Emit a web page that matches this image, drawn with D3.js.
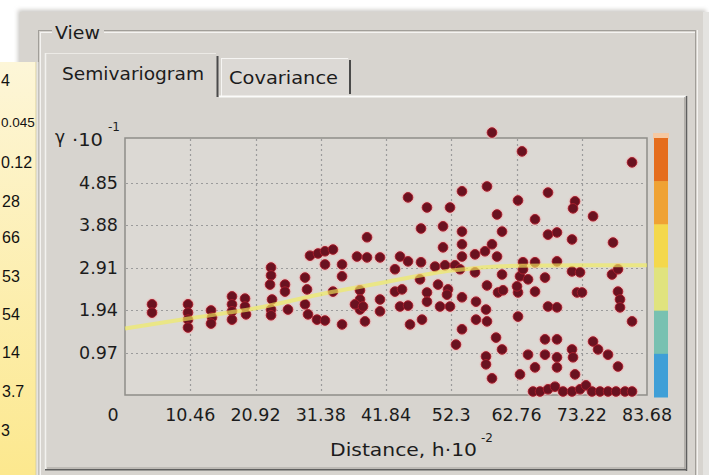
<!DOCTYPE html>
<html><head><meta charset="utf-8">
<script src="https://cdn.jsdelivr.net/npm/d3@7"></script>
<style>html,body{margin:0;padding:0;background:#fff;overflow:hidden}</style>
</head><body>
<svg id="c" width="709" height="475"></svg>
<script>
// ---- data ----
const lagDistance = [4.33,4.33,10.10,10.10,10.10,10.10,13.79,13.95,13.79,17.15,17.15,17.15,17.15,19.24,19.24,19.40,23.41,23.41,23.25,23.57,23.41,23.41,25.65,25.65,26.13,28.86,29.18,28.86,29.34,30.78,32.06,34.79,29.66,30.94,32.06,33.34,32.06,34.79,34.79,38.80,37.19,38.80,40.88,37.67,37.67,37.67,38.47,40.88,40.88,33.34,36.87,38.15,
58.83,45.37,48.41,52.10,54.02,58.03,59.64,47.45,50.98,54.02,54.02,54.02,50.98,60.44,58.83,57.71,56.11,59.64,44.09,45.37,47.45,43.28,49.70,51.30,52.90,53.70,50.18,51.78,47.29,56.11,60.44,43.28,44.41,48.41,48.41,44.09,45.37,50.50,52.10,51.62,54.02,56.27,58.03,59.80,60.60,57.87,47.61,45.69,56.27,58.03,54.02,53.06,59.48,60.44,57.87,57.87,58.83,
63.64,81.28,67.81,63.00,72.14,71.82,75.03,65.73,67.81,69.25,71.66,78.23,63.80,65.73,69.25,71.66,72.94,78.07,79.03,63.32,64.61,67.33,63.00,65.73,72.46,73.26,79.03,79.35,67.81,69.25,63.00,81.28,67.33,69.25,75.03,75.83,64.61,67.33,69.25,71.66,71.82,77.43,69.25,65.73,79.03,63.32,72.14,62.84,63.80,79.35,
65.41,66.53,67.81,68.93,70.22,71.66,72.94,73.90,74.86,76.15,77.43,78.71,80.16,81.28];
const semivariance = [2.07,1.88,2.07,1.88,1.72,1.54,1.93,1.77,1.63,2.25,2.07,1.91,1.72,2.20,2.02,1.84,2.91,2.73,2.52,2.18,1.95,1.82,2.52,2.36,1.95,2.68,2.41,2.07,1.84,1.72,1.70,1.61,3.18,3.23,3.28,3.32,2.98,2.98,2.71,3.60,3.16,3.14,3.14,2.39,2.18,1.95,1.68,2.18,1.91,2.36,2.07,2.02,
5.99,4.51,4.28,4.28,4.65,4.76,4.12,3.80,3.85,3.73,3.44,3.16,3.37,3.73,3.44,3.28,3.21,3.16,3.16,3.05,3.03,2.87,2.93,2.96,2.96,2.87,2.52,2.41,2.64,2.80,2.75,2.36,2.41,2.34,2.13,2.02,2.04,2.02,2.02,2.29,2.23,2.13,2.50,2.34,2.39,1.95,1.72,1.61,1.72,1.68,1.50,1.15,1.31,1.04,0.88,0.70,0.38,
5.56,5.31,4.62,4.44,4.42,4.26,4.08,4.01,3.66,3.71,3.55,3.48,3.03,3.03,3.05,2.82,2.80,2.75,2.87,2.71,2.64,2.68,2.34,2.36,2.34,2.34,2.36,2.18,2.02,2.00,1.79,1.68,1.27,1.27,1.22,1.04,0.92,0.92,0.86,1.04,0.86,0.92,0.63,0.63,0.65,0.47,0.47,2.48,2.87,2.00,
0.08,0.08,0.13,0.19,0.08,0.08,0.13,0.22,0.08,0.08,0.08,0.08,0.08,0.08];

const modelDistance = [0, 10.46, 20.92, 31.38, 41.84, 52.3, 62.76, 73.22, 83.68];
const modelGamma    = [1.52, 1.75, 1.98, 2.30, 2.58, 2.84, 2.95, 2.96, 2.96];

const xTickValues = [10.46, 20.92, 31.38, 41.84, 52.3, 62.76, 73.22, 83.68];
const xTickLabels = ["10.46","20.92","31.38","41.84","52.3","62.76","73.22","83.68"];
const yTickValues = [0.97, 1.94, 2.91, 3.88, 4.85];
const yTickLabels = ["0.97","1.94","2.91","3.88","4.85"];
const xMax = 83.68, yMax = 5.866;

const colorBarColors = ["#e56d1d","#efa234","#f4d84c","#e0e37e","#78c1b1","#3f9fd7"];
const sideLabels = ["4","0.045","0.12","28","66","53","54","14","3.7","3"];

// ---- drawing ----
const W = 709, H = 475;
const svg = d3.select("#c");
const defs = svg.append("defs");
const FONT = "DejaVu Sans, Verdana, sans-serif";
const INK = "#1c1c1c";

const gy = defs.append("linearGradient").attr("id","yel").attr("x1",0).attr("y1",0).attr("x2",0).attr("y2",1);
gy.append("stop").attr("offset","0%").attr("stop-color","#fdf6d8");
gy.append("stop").attr("offset","100%").attr("stop-color","#fce88e");
defs.append("filter").attr("id","soft").append("feGaussianBlur").attr("stdDeviation",2);

svg.append("rect").attr("width",W).attr("height",H).attr("fill","#ffffff");
// window body with soft edge
svg.append("rect").attr("x",18).attr("y",10).attr("width",688).attr("height",470).attr("fill","#c9c7c3").attr("filter","url(#soft)");
svg.append("rect").attr("x",20).attr("y",12).attr("width",683).attr("height",470).attr("fill","#d7d4cf");
svg.append("rect").attr("x",703).attr("y",12).attr("width",6).attr("height",463).attr("fill","#e4e3e0");

function line(x1,y1,x2,y2,c,w){svg.append("line").attr("x1",x1).attr("y1",y1).attr("x2",x2).attr("y2",y2).attr("stroke",c).attr("stroke-width",w||1);}

// group box "View" (etched)
line(38,30.5,52,30.5,"#a19e99"); line(104,30.5,696,30.5,"#a19e99");
line(40,32.5,52,32.5,"#f4f3f1"); line(104,32.5,696,32.5,"#f4f3f1");
line(38.5,30,38.5,475,"#a19e99"); line(40.5,32,40.5,475,"#f4f3f1");
line(695.5,30,695.5,475,"#a19e99"); line(697.5,30,697.5,475,"#f4f3f1");
svg.append("text").attr("x",55).attr("y",39).attr("font-family",FONT).attr("font-size",17)
  .attr("fill",INK).attr("textLength",45).attr("lengthAdjust","spacingAndGlyphs").text("View");

// tabs
line(45,53.5,216,53.5,"#eceae6");
line(45.5,53,45.5,470,"#f2f1ef",1.5);
line(217.5,56,217.5,97,"#4a4a4a",2);
svg.append("rect").attr("x",221).attr("y",58).attr("width",128).attr("height",38).attr("fill","#dcd9d5");
line(221,58.5,348,58.5,"#f6f5f3");
line(221.5,58,221.5,96,"#f6f5f3");
line(350,60,350,94,"#4a4a4a",2);
line(219,96.5,686,96.5,"#fbfbfa",2);
line(686.5,96,686.5,471,"#5e5e5e",1.5);
line(684.8,97,684.8,469,"#a3a09b");
line(45,469.8,687,469.8,"#5e5e5e",1.5);
line(47,468,685,468,"#a3a09b");
svg.append("text").attr("x",62).attr("y",80).attr("font-family",FONT).attr("font-size",17)
  .attr("fill",INK).attr("textLength",142).attr("lengthAdjust","spacingAndGlyphs").text("Semivariogram");
svg.append("text").attr("x",229).attr("y",84).attr("font-family",FONT).attr("font-size",17)
  .attr("fill",INK).attr("textLength",109).attr("lengthAdjust","spacingAndGlyphs").text("Covariance");

// side yellow box (values of a neighbouring table)
svg.append("rect").attr("x",0).attr("y",62).attr("width",36).attr("height",413).attr("fill","url(#yel)");
line(36,62,36,475,"#d8cf9e",1);
line(37.5,62,37.5,475,"#e6e4e0",2);
const sideStart = [1,1,1,2,2,2,2,2,2,1];
const sideY = [80,122,162,201,237,276,314,352,391,430];
svg.append("g").selectAll("text").data(sideLabels).join("text")
  .attr("x",(d,i)=>sideStart[i]).attr("y",(d,i)=>sideY[i]).attr("dy","0.36em")
  .attr("text-anchor","start").attr("font-family","Liberation Sans, Arial, sans-serif")
  .attr("font-size",d=>d.length>4?13.5:16).attr("fill","#111").text(d=>d);

// plot
const x = d3.scaleLinear().domain([0,xMax]).range([125,647]);
const y = d3.scaleLinear().domain([0,yMax]).range([395,138]);

svg.append("rect").attr("x",125).attr("y",138).attr("width",522).attr("height",257)
  .attr("fill","#dcd9d4").attr("stroke","#8f8d89").attr("stroke-width",1.5);

const grid = svg.append("g").attr("stroke","#9b9b9b").attr("stroke-width",1.2).attr("stroke-dasharray","2,3");
grid.selectAll(".vx").data(xTickValues.slice(0,-1)).join("line")
  .attr("x1",d=>Math.round(x(d))+0.5).attr("x2",d=>Math.round(x(d))+0.5).attr("y1",139).attr("y2",394);
grid.selectAll(".hy").data(yTickValues).join("line")
  .attr("y1",d=>Math.round(y(d))+0.5).attr("y2",d=>Math.round(y(d))+0.5).attr("x1",126).attr("x2",646);

// color bar
const cbH = (397-138)/colorBarColors.length;
svg.append("rect").attr("x",653).attr("y",133).attr("width",16).attr("height",6).attr("fill","#f5c9a3");
svg.selectAll(".cb").data(colorBarColors).join("rect")
  .attr("x",654).attr("y",(d,i)=>138+i*cbH).attr("width",14).attr("height",cbH+0.5).attr("fill",d=>d);

// points
const pts = lagDistance.map((d,i)=>[d, semivariance[i]]);
svg.append("g").selectAll("circle").data(pts).join("circle")
  .attr("cx",d=>x(d[0])).attr("cy",d=>y(d[1])).attr("r",6.5)
  .attr("fill","#ecb9ba").attr("opacity",0.55);
svg.append("g").selectAll("circle").data(pts).join("circle")
  .attr("cx",d=>x(d[0])).attr("cy",d=>y(d[1])).attr("r",4.8)
  .attr("fill","#6a1220").attr("stroke","#a61d2b").attr("stroke-width",1);

// model curve
const model = modelDistance.map((d,i)=>[d, modelGamma[i]]);
svg.append("path").datum(model)
  .attr("d", d3.line().x(d=>x(d[0])).y(d=>y(d[1])).curve(d3.curveMonotoneX))
  .attr("fill","none").attr("stroke","#f1ec5c").attr("stroke-width",4).attr("opacity",0.65);

// axes labels
svg.append("g").selectAll("text").data(yTickValues).join("text")
  .attr("x",118).attr("y",d=>y(d)).attr("dy","0.36em").attr("text-anchor","end")
  .attr("font-family",FONT).attr("font-size",17.5).attr("fill",INK)
  .text((d,i)=>yTickLabels[i]);
svg.append("g").selectAll("text").data(xTickValues).join("text")
  .attr("x",d=>x(d)).attr("y",415).attr("dy","0.36em").attr("text-anchor","middle")
  .attr("font-family",FONT).attr("font-size",17.5).attr("fill",INK)
  .text((d,i)=>xTickLabels[i]);
svg.append("text").attr("x",x(0)-12).attr("y",415).attr("dy","0.36em").attr("text-anchor","middle")
  .attr("font-family",FONT).attr("font-size",17.5).attr("fill",INK).text("0");

// y title
svg.append("text").attr("x",55).attr("y",143).attr("font-family",FONT).attr("font-size",17).attr("fill",INK).text("γ");
svg.append("text").attr("x",72).attr("y",146).attr("font-family",FONT).attr("font-size",17).attr("fill",INK)
  .attr("textLength",31).attr("lengthAdjust","spacingAndGlyphs").text("·10");
svg.append("text").attr("x",108).attr("y",131).attr("font-family",FONT).attr("font-size",12).attr("fill",INK).text("-1");
// x title
svg.append("text").attr("x",330).attr("y",456).attr("font-family",FONT).attr("font-size",17).attr("fill",INK)
  .attr("textLength",147).attr("lengthAdjust","spacingAndGlyphs").text("Distance, h·10");
svg.append("text").attr("x",481).attr("y",442).attr("font-family",FONT).attr("font-size",12).attr("fill",INK).text("-2");
</script>
</body></html>
